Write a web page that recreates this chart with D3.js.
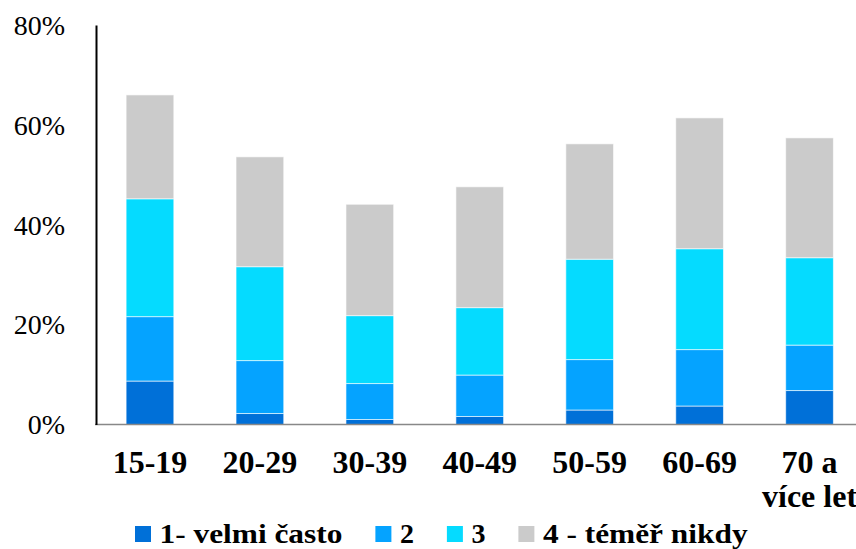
<!DOCTYPE html>
<html><head><meta charset="utf-8"><script src="https://cdn.jsdelivr.net/npm/d3@7"></script></head>
<body style="margin:0">
<svg id="chart" width="856" height="549" font-family="Liberation Serif"></svg>
<script>
const categories = ["15-19", "20-29", "30-39", "40-49", "50-59", "60-69", "70 a\nvíce let"];
const seriesNames = ["1- velmi často", "2", "3", "4 - téměř nikdy"];
const velmiCasto = [8.7, 2.2, 1.0, 1.6, 2.9, 3.7, 6.8];
const dva = [12.9, 10.6, 7.2, 8.3, 10.1, 11.3, 9.1];
const tri = [23.6, 18.8, 13.6, 13.5, 20.1, 20.2, 17.5];
const temerNikdy = [20.8, 22.0, 22.3, 24.2, 23.1, 26.2, 24.0];
const yTicks = [0, 20, 40, 60, 80];
const colors = ["#0070d8", "#05a3ff", "#05dbff", "#cbcbcb"];

const seriesValues = [velmiCasto, dva, tri, temerNikdy];
const rows = categories.map((c, i) => {
  const r = { cat: c };
  seriesNames.forEach((s, j) => r[s] = seriesValues[j][i]);
  return r;
});

const FONT = '"Liberation Serif"';
const svg = d3.select("#chart");
const x = d3.scaleBand().domain(categories).range([95, 864.5]).paddingInner(0.566).paddingOuter(0.283);
const y = d3.scaleLinear().domain([0, 80]).range([424.5, 25]);

const stacked = d3.stack().keys(seriesNames)(rows);

// bars
svg.append("g").selectAll("g").data(stacked).join("g")
  .attr("fill", (d, i) => colors[i])
  .selectAll("rect").data(d => d).join("rect")
  .attr("x", d => x(d.data.cat))
  .attr("width", x.bandwidth())
  .attr("y", d => y(d[1]))
  .attr("height", d => y(d[0]) - y(d[1]))
  .attr("stroke", "rgba(255,255,255,0.6)")
  .attr("stroke-width", 1);

// x axis baseline
svg.append("line")
  .attr("x1", 95).attr("x2", 856)
  .attr("y1", y(0)).attr("y2", y(0))
  .attr("stroke", "#888").attr("stroke-width", 1.5);

// y axis (domain line + labels)
const yAxis = d3.axisLeft(y).tickValues(yTicks).tickFormat(d => d + "%").tickSize(0).tickPadding(31);
const yg = svg.append("g").attr("transform", "translate(96,0)").call(yAxis);
yg.attr("font-family", "Liberation Serif").attr("font-size", 28);
yg.select(".domain").attr("stroke", "#000").attr("stroke-width", 2);
yg.selectAll("text")
  .style("font-family", FONT)
  .style("font-size", "28px")
  .attr("fill", "#000")
  .attr("dy", "0.33em");

// x labels
const xl = svg.append("g").selectAll("text").data(categories).join("text")
  .attr("x", d => x(d) + x.bandwidth() / 2)
  .attr("y", 473)
  .attr("text-anchor", "middle")
  .style("font-family", FONT)
  .style("font-weight", "bold")
  .style("font-size", "32px")
  .attr("fill", "#000");
xl.each(function(d) {
  const lines = d.split("\n");
  d3.select(this).selectAll("tspan").data(lines).join("tspan")
    .attr("x", x(d) + x.bandwidth() / 2)
    .attr("dy", (l, i) => i === 0 ? 0 : 33.5)
    .text(l => l);
});

// legend
const legend = svg.append("g");
let lx = 135;
seriesNames.forEach((s, i) => {
  legend.append("rect")
    .attr("x", lx).attr("y", 526)
    .attr("width", 16).attr("height", 16)
    .attr("fill", colors[i]);
  const t = legend.append("text")
    .attr("x", lx + 24.5).attr("y", 543)
    .style("font-family", FONT)
    .style("font-weight", "bold")
    .style("font-size", "28px")
    .attr("fill", "#000")
    .text(s);
  const w0 = t.node().getComputedTextLength();
  const w = s.length > 1 ? w0 * 1.12 : w0;
  if (s.length > 1) t.attr("textLength", w).attr("lengthAdjust", "spacingAndGlyphs");
  lx += 24.5 + w + 33;
});
</script>
</body>
</html>
